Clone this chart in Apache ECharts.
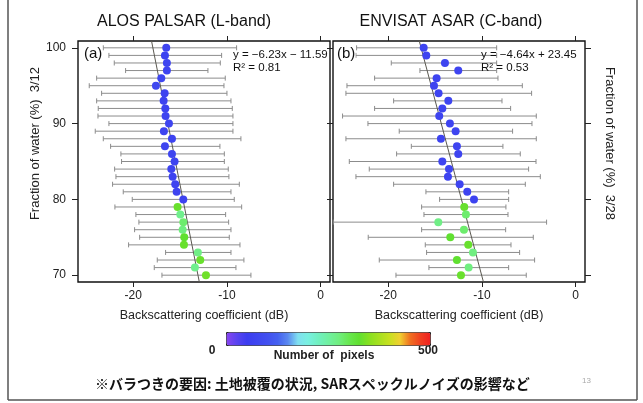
<!DOCTYPE html>
<html>
<head>
<meta charset="utf-8">
<script src="https://cdn.jsdelivr.net/npm/echarts@6/dist/echarts.min.js"></script>
<style>html,body{margin:0;padding:0;background:#fff;}#c{width:643px;height:403px;}</style>
</head>
<body>
<div id="c"></div>
<script>
// ---- data ----
const fractions = [100,99,98,97,96,95,94,93,92,91,90,89,88,87,86,85,84,83,82,81,80,79,78,77,76,75,74,73,72,71,70];

const palsarMean = [-16.48,-16.62,-16.41,-16.41,-17.01,-17.58,-16.65,-16.76,-16.58,-16.55,-16.19,-16.73,-15.87,-16.62,-15.87,-15.59,-15.94,-15.80,-15.52,-15.37,-14.66,-15.27,-14.98,-14.66,-14.73,-14.56,-14.59,-13.10,-12.85,-13.42,-12.24];
const palsarLow  = [-23.2,-22.60,-22.03,-20.82,-23.91,-24.70,-23.38,-23.91,-23.74,-23.77,-22.60,-24.06,-23.20,-22.42,-21.32,-21.25,-21.99,-21.85,-22.21,-21.07,-20.11,-21.96,-19.72,-19.40,-19.86,-19.32,-20.50,-16.55,-17.44,-17.76,-16.94];
const palsarHigh = [-8.97,-10.57,-10.71,-12.03,-10.18,-10.32,-10.00,-9.57,-9.43,-9.36,-9.36,-9.36,-8.51,-10.75,-10.28,-10.28,-9.86,-9.79,-8.68,-9.57,-9.22,-8.43,-10.14,-9.82,-9.57,-9.75,-8.61,-9.57,-8.19,-9.04,-7.44];
const palsarPixels = [70,68,72,70,75,80,70,70,68,70,72,70,68,70,72,70,70,68,70,70,65,330,265,285,275,325,330,270,330,265,335];

const asarMean = [-16.22,-15.94,-13.95,-12.53,-14.84,-15.12,-14.63,-13.59,-14.23,-14.56,-13.42,-12.81,-14.38,-12.67,-12.53,-14.23,-13.52,-13.63,-12.38,-11.57,-10.85,-11.89,-11.71,-14.66,-11.92,-13.38,-11.46,-10.96,-12.67,-11.42,-12.24];
const asarLow  = [-23.38,-23.45,-19.68,-16.62,-21.46,-24.41,-24.52,-19.43,-21.46,-24.88,-22.17,-18.83,-24.52,-17.54,-19.11,-24.16,-22.03,-23.45,-19.43,-15.98,-14.52,-16.44,-16.19,-25.87,-16.44,-22.14,-16.05,-15.91,-20.96,-15.66,-19.18];
const asarHigh = [-8.43,-8.43,-8.43,-8.43,-8.29,-5.69,-4.70,-7.86,-6.94,-4.20,-4.66,-6.73,-4.20,-7.76,-5.91,-4.23,-5.02,-3.77,-5.37,-7.15,-7.15,-7.44,-7.22,-3.10,-7.47,-4.52,-6.90,-5.98,-4.38,-7.15,-5.27];
const asarPixels = [70,70,72,70,70,68,70,72,70,70,70,72,70,70,70,70,70,68,70,70,68,330,285,270,285,325,330,275,325,275,330];

// regression line end points
const palsarFit = [[-18.05,100.9],[-12.95,69.1]];
const asarFit = [[-16.69,100.9],[-9.84,69.1]];

const xTicks = [-20,-10,0];
const yTicks = [70,80,90,100];
const colorbarColors = ['#8844f0','#5a44f0','#3c3cf0','#3e46f0','#4250f0','#4460f0','#5a88f0','#80e0f0','#78f0e0','#70f0c0','#70f0a0','#70ee80','#68e850','#60e030','#88e020','#a8e020','#c8e020','#f0d030','#f07020','#f04020','#f02020'];

// ---- build ----
const FONT = 'Liberation Sans, Arial, sans-serif';
const JP = '"Noto Sans CJK JP", sans-serif';
function zip3(a,b,c){return a.map((v,i)=>[v,b[i],c[i]]);}
const palsarBars = fractions.map((f,i)=>[palsarLow[i],palsarHigh[i],f]);
const asarBars = fractions.map((f,i)=>[asarLow[i],asarHigh[i],f]);
const palsarPts = zip3(palsarMean, fractions, palsarPixels);
const asarPts = zip3(asarMean, fractions, asarPixels);

function errRender(params, api){
  const p1 = api.coord([api.value(0), api.value(2)]);
  const p2 = api.coord([api.value(1), api.value(2)]);
  const st = {stroke:'#8c8c8c', lineWidth:1};
  const h = 2.5;
  return {type:'group', children:[
    {type:'line', shape:{x1:p1[0],y1:p1[1],x2:p2[0],y2:p2[1]}, style:st},
    {type:'line', shape:{x1:p1[0],y1:p1[1]-h,x2:p1[0],y2:p1[1]+h}, style:st},
    {type:'line', shape:{x1:p2[0],y1:p2[1]-h,x2:p2[0],y2:p2[1]+h}, style:st}
  ]};
}

function xAx(grid, pos, labels){
  return {type:'value', gridIndex:grid, position:pos, min:-25.9, max:1,
    axisLine:{show:false, onZero:false}, splitLine:{show:false},
    axisTick:{show:true, length:5, customValues:xTicks, lineStyle:{color:'#222'}},
    axisLabel:{show:labels, customValues:xTicks, color:'#222', fontSize:12, fontFamily:FONT, margin:8},
    name: labels ? 'Backscattering coefficient (dB)' : '', nameLocation:'middle', nameGap:27,
    nameTextStyle:{color:'#222', fontSize:12.5, fontFamily:FONT}};
}
function yAx(grid, pos, labels, name, pad){
  return {type:'value', gridIndex:grid, position:pos, min:69.1, max:100.9,
    axisLine:{show:false, onZero:false}, splitLine:{show:false},
    axisTick:{show:true, length:6, customValues:yTicks, lineStyle:{color:'#222'}},
    axisLabel:{show:labels, customValues:yTicks, color:'#222', fontSize:12, fontFamily:FONT, margin:12},
    name:name, nameLocation:'middle', nameGap: pos==='left'?34:18, nameRotate: pos==='left'?90:-90,
    nameTextStyle:{color:'#222', fontSize:13, fontFamily:FONT, padding:pad}};
}

const chart = echarts.init(document.getElementById('c'), null, {renderer:'canvas'});
chart.setOption({
  backgroundColor:'#fff',
  animation:false,
  grid:[
    {left:78, top:41, width:252, height:241, show:true, borderColor:'#111', borderWidth:1.4, backgroundColor:'transparent'},
    {left:333, top:41, width:252, height:241, show:true, borderColor:'#111', borderWidth:1.4, backgroundColor:'transparent'}
  ],
  xAxis:[xAx(0,'bottom',true), xAx(0,'top',false), xAx(1,'bottom',true), xAx(1,'top',false)],
  yAxis:[yAx(0,'left',true,'Fraction of water (%)  3/12',[0,0,0,36]),
         yAx(1,'left',false,'',0),
         yAx(1,'right',false,'Fraction of water (%)  3/28',[0,36,0,0])],
  visualMap:{type:'continuous', min:0, max:500, seriesIndex:[2,5], dimension:2,
    orient:'horizontal', left:226, top:332, itemWidth:13, itemHeight:204,
    calculable:false, hoverLink:false, padding:0, borderColor:'#222', borderWidth:1,
    inRange:{color:colorbarColors}},
  series:[
    {type:'custom', xAxisIndex:0, yAxisIndex:0, renderItem:errRender, data:palsarBars, encode:{x:[0,1], y:2}, z:1},
    {type:'line', xAxisIndex:0, yAxisIndex:0, data:palsarFit, symbol:'none', lineStyle:{color:'#5a5850', width:1}, z:2},
    {type:'scatter', xAxisIndex:0, yAxisIndex:0, data:palsarPts, symbolSize:8, itemStyle:{opacity:1}, z:3},
    {type:'custom', xAxisIndex:2, yAxisIndex:1, renderItem:errRender, data:asarBars, encode:{x:[0,1], y:2}, z:1},
    {type:'line', xAxisIndex:2, yAxisIndex:1, data:asarFit, symbol:'none', lineStyle:{color:'#5a5850', width:1}, z:2},
    {type:'scatter', xAxisIndex:2, yAxisIndex:1, data:asarPts, symbolSize:8, itemStyle:{opacity:1}, z:3}
  ],
  graphic:[
    {type:'text', x:184, y:22, style:{text:'ALOS PALSAR (L-band)', font:'16px '+FONT, fill:'#111', align:'center', verticalAlign:'middle'}},
    {type:'text', x:451, y:22, style:{text:'ENVISAT ASAR (C-band)', font:'16px '+FONT, fill:'#111', align:'center', verticalAlign:'middle'}},
    {type:'text', x:84, y:54, z:10, style:{text:'(a)', font:'15px '+FONT, fill:'#111', verticalAlign:'middle', backgroundColor:'#fff'}},
    {type:'text', x:337, y:54, z:10, style:{text:'(b)', font:'15px '+FONT, fill:'#111', verticalAlign:'middle', backgroundColor:'#fff'}},
    {type:'text', x:233, y:55, z:10, style:{text:'y = \u22126.23x \u2212 11.59', font:'11.5px '+FONT, fill:'#111', verticalAlign:'middle'}},
    {type:'text', x:233, y:68, z:10, style:{text:'R\u00b2 = 0.81', font:'11.5px '+FONT, fill:'#111', verticalAlign:'middle'}},
    {type:'text', x:481, y:55, z:10, style:{text:'y = \u22124.64x + 23.45', font:'11.5px '+FONT, fill:'#111', verticalAlign:'middle'}},
    {type:'text', x:481, y:68, z:10, style:{text:'R\u00b2 = 0.53', font:'11.5px '+FONT, fill:'#111', verticalAlign:'middle'}},
    {type:'text', x:212, y:351, style:{text:'0', font:'bold 12px '+FONT, fill:'#222', align:'center', verticalAlign:'middle'}},
    {type:'text', x:428, y:351, style:{text:'500', font:'bold 12px '+FONT, fill:'#222', align:'center', verticalAlign:'middle'}},
    {type:'text', x:324, y:356, style:{text:'Number of  pixels', font:'bold 12px '+FONT, fill:'#222', align:'center', verticalAlign:'middle'}},
    {type:'text', x:95, y:384, style:{text:'\u203b\u30d0\u30e9\u3064\u304d\u306e\u8981\u56e0: \u571f\u5730\u88ab\u8986\u306e\u72b6\u6cc1, SAR\u30b9\u30da\u30c3\u30af\u30eb\u30ce\u30a4\u30ba\u306e\u5f71\u97ff\u306a\u3069', font:'bold 14px '+JP, fill:'#111', verticalAlign:'middle'}},
    {type:'text', x:582, y:381, style:{text:'13', font:'8px '+FONT, fill:'#aaa', verticalAlign:'middle'}},
    {type:'line', shape:{x1:8,y1:0,x2:8,y2:400}, style:{stroke:'#555', lineWidth:1.5}},
    {type:'line', shape:{x1:637,y1:0,x2:637,y2:400}, style:{stroke:'#555', lineWidth:1.5}},
    {type:'line', shape:{x1:8,y1:400,x2:637,y2:400}, style:{stroke:'#555', lineWidth:1.5}}
  ]
});
</script>
</body>
</html>
